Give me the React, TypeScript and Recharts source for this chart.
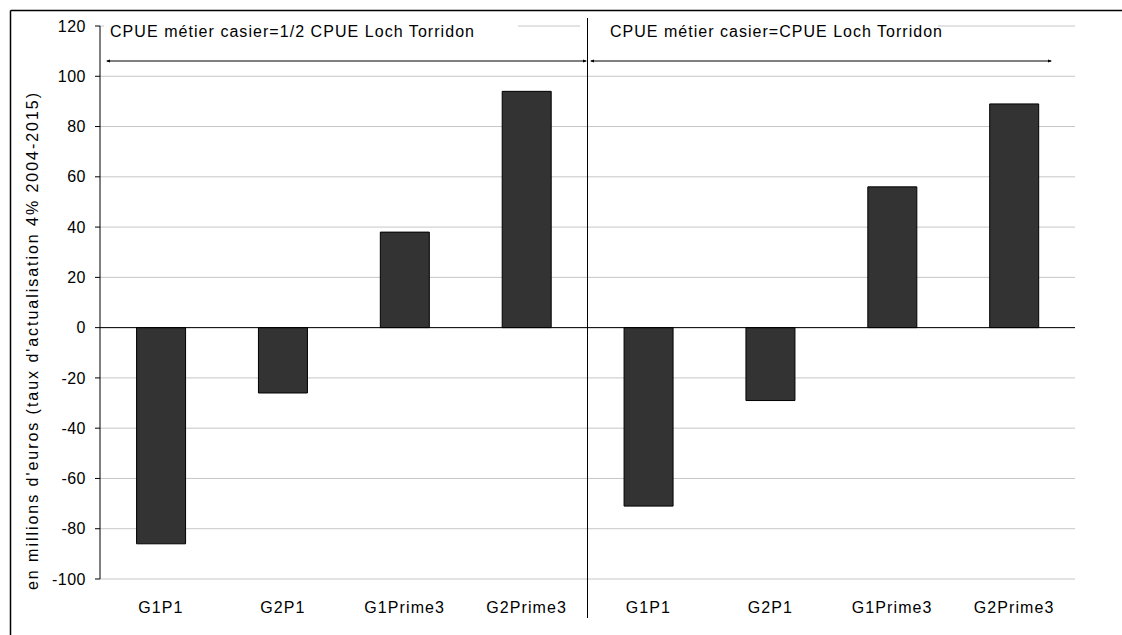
import { BarChart, Bar, XAxis, YAxis, CartesianGrid, ReferenceLine } from 'recharts';

const categories = ['G1P1', 'G2P1', 'G1Prime3', 'G2Prime3'];
// valeur actualisée nette par scénario (millions d'euros)
const halfCpue = [-86, -26, 38, 94];
const fullCpue = [-71, -29, 56, 89];
const yTicks = [-100, -80, -60, -40, -20, 0, 20, 40, 60, 80, 100, 120];
const scenarioLabels = [
  'CPUE métier casier=1/2 CPUE Loch Torridon',
  'CPUE métier casier=CPUE Loch Torridon',
];
const yLabel = "en millions d'euros (taux d'actualisation 4% 2004-2015)";

const W = 1122;
const H = 635;
const M = { top: 26, right: 47, bottom: 26, left: 0 };
const Y_AXIS_W = 100;
const X_AXIS_H = 30;
const FONT = '"Liberation Sans", Arial, sans-serif';

const plotLeft = M.left + Y_AXIS_W;
const plotRight = W - M.right;
const mid = (plotLeft + plotRight) / 2;

const data = [
  ...categories.map((c, i) => ({ key: `a-${c}`, name: c, value: halfCpue[i] })),
  ...categories.map((c, i) => ({ key: `b-${c}`, name: c, value: fullCpue[i] })),
];
const nameOf = (k: string) => data.find((d) => d.key === k)?.name ?? k;

function Annotations() {
  const arrowY = 61;
  return (
    <svg
      width={W}
      height={H}
      style={{ position: 'absolute', left: 0, top: 0, pointerEvents: 'none' }}
    >
      {/* cadre */}
      <line x1={10.5} y1={10.5} x2={W} y2={10.5} stroke="#000" strokeWidth={1.5} />
      <line x1={10.5} y1={10.5} x2={10.5} y2={H} stroke="#000" strokeWidth={1.5} />

      {/* fonds blancs des titres de scénario */}
      <rect x={104} y={18} width={414} height={16} fill="#fff" />
      <rect x={580} y={18} width={358} height={16} fill="#fff" />

      {/* séparation des deux hypothèses */}
      <line x1={mid} y1={18} x2={mid} y2={618} stroke="#000" strokeWidth={1} />

      {/* flèches */}
      <line x1={107} y1={arrowY} x2={586} y2={arrowY} stroke="#000" strokeWidth={1} />
      <polygon points={`106,${arrowY} 110,${arrowY - 1.5} 110,${arrowY + 1.5}`} fill="#000" />
      <polygon points={`587,${arrowY} 583,${arrowY - 1.5} 583,${arrowY + 1.5}`} fill="#000" />
      <line x1={591} y1={arrowY} x2={1051} y2={arrowY} stroke="#000" strokeWidth={1} />
      <polygon points={`590,${arrowY} 594,${arrowY - 1.5} 594,${arrowY + 1.5}`} fill="#000" />
      <polygon points={`1052,${arrowY} 1048,${arrowY - 1.5} 1048,${arrowY + 1.5}`} fill="#000" />

      <g fontFamily={FONT} fontSize={16} fill="#000">
        <text x={110} y={37} textLength={364} lengthAdjust="spacing">
          {scenarioLabels[0]}
        </text>
        <text x={610} y={37} textLength={332} lengthAdjust="spacing">
          {scenarioLabels[1]}
        </text>
        <text
          x={-249}
          y={0}
          textLength={497}
          lengthAdjust="spacing"
          transform="translate(38, 341) rotate(-90)"
        >
          {yLabel}
        </text>
      </g>
    </svg>
  );
}

export default function App() {
  return (
    <div style={{ position: 'absolute', left: 0, top: 0, width: W, height: H, background: '#fff' }}>
      <BarChart width={W} height={H} data={data} margin={M} barCategoryGap="30%">
        <CartesianGrid horizontal vertical={false} stroke="#c6c6c6" />
        <XAxis
          dataKey="key"
          height={X_AXIS_H}
          axisLine={false}
          tickLine={false}
          tickMargin={17}
          tickFormatter={nameOf}
          interval={0}
          tick={{ fill: '#000', fontSize: 16, fontFamily: FONT, letterSpacing: 1.1 }}
        />
        <YAxis
          width={Y_AXIS_W}
          domain={[-100, 120]}
          ticks={yTicks}
          interval={0}
          axisLine={{ stroke: '#000' }}
          tickLine={{ stroke: '#000' }}
          tickSize={5}
          tickMargin={9}
          tick={{ fill: '#000', fontSize: 16, fontFamily: FONT, letterSpacing: 0.5 }}
        />
        <ReferenceLine y={0} stroke="#000" />
        <Bar dataKey="value" fill="#333333" stroke="#000" strokeWidth={1} isAnimationActive={false} />
      </BarChart>
      <Annotations />
    </div>
  );
}
